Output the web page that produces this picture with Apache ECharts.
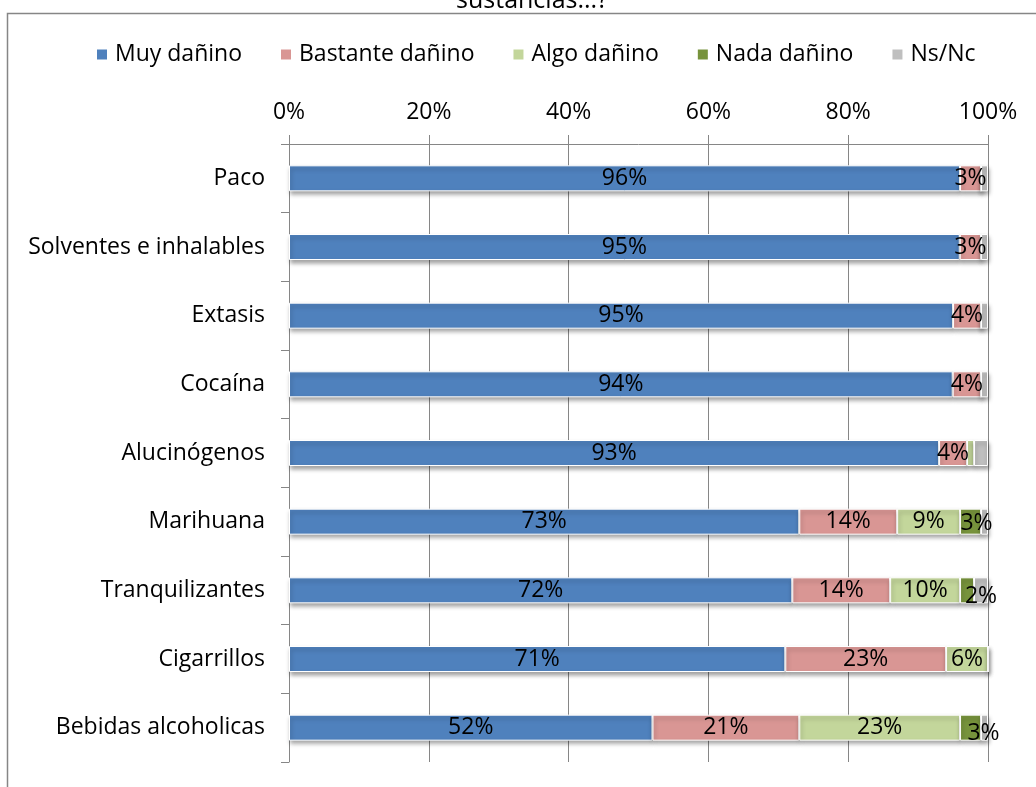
<!DOCTYPE html>
<html>
<head>
<meta charset="utf-8">
<script src="https://cdn.jsdelivr.net/npm/echarts@6/dist/echarts.min.js"></script>
<style>
html,body{margin:0;padding:0;background:#fff;}
#chart{width:1036px;height:787px;}
</style>
</head>
<body>
<div id="chart"></div>
<script>
var categories = ['Paco','Solventes e inhalables','Extasis','Cocaína','Alucinógenos','Marihuana','Tranquilizantes','Cigarrillos','Bebidas alcoholicas'];
var seriesNames = ['Muy dañino','Bastante dañino','Algo dañino','Nada dañino','Ns/Nc'];
var muyDanino      = [96, 95, 95, 94, 93, 73, 72, 71, 52];
var bastanteDanino = [3, 3, 4, 4, 4, 14, 14, 23, 21];
var algoDanino     = [0, 0, 0, 0, 1, 9, 10, 6, 23];
var nadaDanino     = [0, 0, 0, 0, 0, 3, 2, 0, 3];
var nsNc           = [1, 1, 1, 1, 2, 1, 2, 0, 1];
var tickValues = [0, 20, 40, 60, 80, 100];

var colors = ['#4F81BD', '#D99694', '#C3D69B', '#77933C', '#BFBFBF'];
var FONT = 'Open Sans';
var FS = 23;

var raw = [muyDanino, bastanteDanino, algoDanino, nadaDanino, nsNc];
var rowSums = categories.map(function(c, i){
  return raw.reduce(function(s, arr){ return s + arr[i]; }, 0);
});

// which labels are displayed (as in the reference)
function labelCfg(si, i, v) {
  if (v === 0) return {show:false};
  if (si === 0 || si === 1) return {show:true};
  if (si === 2) return {show: v >= 5};
  if (si === 3) {
    if (v < 3) return {show:false};
    return {show:true, offset: (i === 8 ? [13, 6] : [6, 2])};
  }
  if (si === 4) {
    if (categories[i] === 'Tranquilizantes') return {show:true, offset:[0, 6]};
    return {show:false};
  }
  return {show:false};
}

var series = raw.map(function(arr, si){
  return {
    name: seriesNames[si],
    type: 'bar',
    stack: 'total',
    barWidth: 26,
    itemStyle: {
      color: colors[si],
      borderColor: '#ffffff',
      borderWidth: 1,
      shadowColor: 'rgba(0,0,0,0.35)',
      shadowBlur: 4,
      shadowOffsetX: 1,
      shadowOffsetY: 3
    },
    label: {
      position: 'inside',
      color: '#000',
      fontFamily: FONT,
      fontSize: FS,
      formatter: function(p){ return arr[p.dataIndex] + '%'; }
    },
    data: arr.map(function(v, i){
      return { value: v / rowSums[i] * 100, label: labelCfg(si, i, v) };
    })
  };
});

var chart = echarts.init(document.getElementById('chart'), null, {renderer:'canvas'});
chart.setOption({
  animation: false,
  backgroundColor: '#ffffff',
  title: {
    text: 'sustancias...?',
    left: 527,
    textAlign: 'center',
    top: -17,
    textStyle: {fontFamily: FONT, fontSize: 25, fontWeight: 'normal', color: '#000'}
  },
  graphic: [{
    type: 'rect',
    shape: {x: 7.5, y: 13.5, width: 2000, height: 2000},
    style: {fill: 'none', stroke: '#868686', lineWidth: 1.5},
    silent: true
  }],
  legend: {
    left: 90,
    top: 38,
    itemWidth: 12,
    itemHeight: 12,
    itemGap: 37,
    icon: 'rect',
    textStyle: {fontFamily: FONT, fontSize: FS, color: '#000', padding: [0,0,0,2]},
    data: seriesNames
  },
  grid: {left: 289, right: 48, top: 144, bottom: 25, containLabel: false},
  xAxis: {
    type: 'value',
    position: 'top',
    min: 0, max: 100, interval: 20,
    axisLine: {show: true, lineStyle: {color: '#868686', width: 1}},
    axisTick: {show: true, length: 9, lineStyle: {color: '#868686'}},
    splitLine: {show: true, lineStyle: {color: '#868686', width: 1}},
    axisLabel: {
      margin: 20,
      fontFamily: FONT, fontSize: FS, color: '#000',
      formatter: function(v){ return tickValues.indexOf(v) >= 0 ? v + '%' : ''; }
    }
  },
  yAxis: {
    type: 'category',
    inverse: true,
    data: categories,
    axisLine: {show: true, lineStyle: {color: '#868686', width: 1}},
    axisTick: {show: true, length: 8, lineStyle: {color: '#868686'}},
    splitLine: {show: false},
    axisLabel: {margin: 24, fontFamily: FONT, fontSize: FS, color: '#000'}
  },
  series: series
});
</script>
</body>
</html>
